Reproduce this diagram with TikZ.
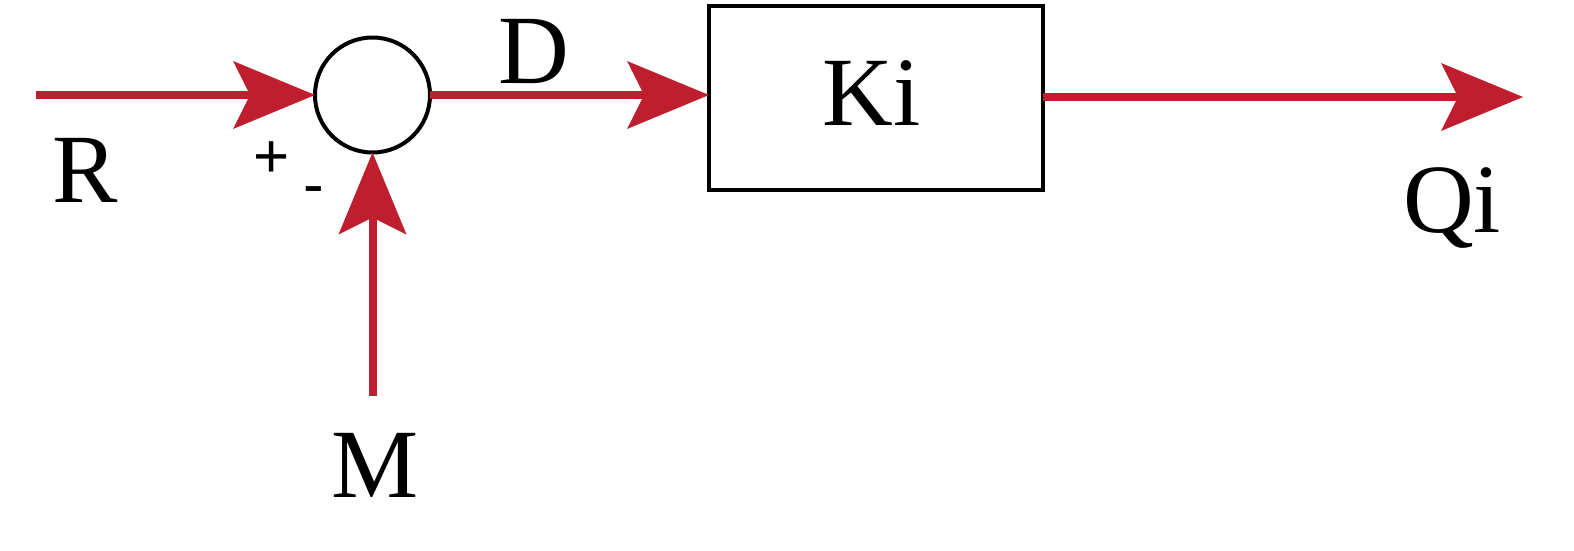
\documentclass[tikz,border=0pt]{standalone}
\usepackage{fontspec}
\setmainfont{Liberation Serif}
\newfontfamily\signfont{Liberation Sans}
\usetikzlibrary{arrows.meta}
\definecolor{flowred}{RGB}{190,30,45}
\begin{document}
\begin{tikzpicture}[x=1pt,y=-1pt,
    flow/.style={draw=flowred,line width=8pt,-{Stealth[length=82pt,width=68pt,inset=17pt,line width=0pt]}},
    sum/.style={circle,draw,line width=4pt,minimum size=115pt,inner sep=0pt,outer sep=0pt},
    block/.style={rectangle,draw,line width=3.5pt,minimum width=334pt,minimum height=184pt,inner sep=0pt,outer sep=0pt},
    lbl/.style={anchor=base,inner sep=0pt,font=\fontsize{98}{100}\selectfont},
    sign/.style={inner sep=0pt,font=\signfont\fontsize{62}{64}\selectfont}]
\useasboundingbox (0,0) rectangle (1574,550);
\node[sum] (sum) at (372.5,95) {};
\node[block] (Ki) at (876,98) {};
\node[lbl] (Kitext) at (871.5,125) {Ki};
\coordinate (in) at (36,95);
\coordinate (mend) at (372.5,396);
\coordinate (out) at (1523,97);
\draw[flow] (in) -- (sum.west);
\draw[flow] (sum.east) -- (sum.east -| Ki.west);
\draw[flow] (Ki.east |- out) -- (out);
\draw[flow] (mend) -- (sum.south);
% labels
\node[lbl] (R) at (85,202) {R};
\node[lbl] (D) at (534,83) {D};
\node[lbl] (M) at (375,497) {M};
\node[lbl] (Qi) at (1452,232) {Qi};
\node[sign] (plus) at (272,160) {+};
\node[sign] (minus) at (314,196) {-};
\end{tikzpicture}
\end{document}
